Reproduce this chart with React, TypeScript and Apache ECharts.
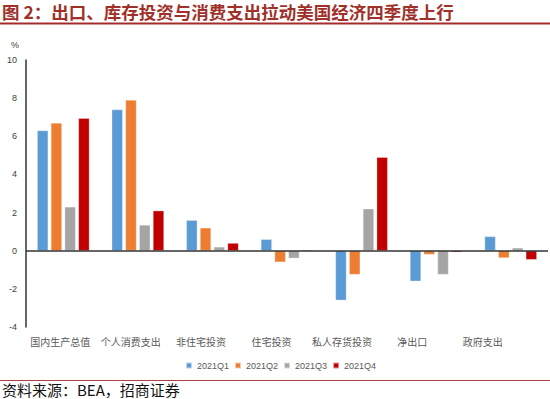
import React, { useEffect, useRef } from "react";
import * as echarts from "echarts";

const categories = ["国内生产总值", "个人消费支出", "非住宅投资", "住宅投资", "私人存货投资", "净出口", "政府支出"];
const q1 = [6.3, 7.4, 1.6, 0.6, -2.6, -1.6, 0.75];
const q2 = [6.7, 7.9, 1.2, -0.6, -1.25, -0.2, -0.38];
const q3 = [2.3, 1.35, 0.2, -0.4, 2.2, -1.25, 0.15];
const q4 = [6.95, 2.1, 0.4, 0.05, 4.9, -0.08, -0.47];
const seriesNames = ["2021Q1", "2021Q2", "2021Q3", "2021Q4"];
const colors = ["#5B9BD5", "#ED7D31", "#A5A5A5", "#C00000"];

const titleText = "图 2：出口、库存投资与消费支出拉动美国经济四季度上行";
const sourceText = "资料来源：BEA，招商证券";

export default function App() {
  const ref = useRef<HTMLDivElement>(null);
  useEffect(() => {
    if (!ref.current) return;
    const chart = echarts.init(ref.current, null, { renderer: "svg" });
    const data = [q1, q2, q3, q4];
    chart.setOption({
      animation: false,
      backgroundColor: "#ffffff",
      graphic: [
        {
          type: "text",
          left: 2,
          top: 3,
          style: {
            text: titleText,
            fill: "#A0302A",
            font: "bold 17.5px 'Noto Sans CJK SC', serif",
          },
        },
        {
          type: "line",
          shape: { x1: 0, y1: 23.5, x2: 550, y2: 23.5 },
          style: { stroke: "#A52A2A", lineWidth: 2 },
        },
        {
          type: "line",
          shape: { x1: 0, y1: 380.5, x2: 550, y2: 380.5 },
          style: { stroke: "#B04040", lineWidth: 1 },
        },
        {
          type: "text",
          left: 2,
          top: 382,
          style: {
            text: sourceText,
            fill: "#111111",
            font: "15px 'Noto Sans CJK SC', serif",
          },
        },
        {
          type: "text",
          left: 11,
          top: 40,
          style: { text: "%", fill: "#404040", font: "9px 'Liberation Sans', sans-serif" },
        },
      ],
      legend: {
        data: seriesNames,
        left: 180,
        top: 356,
        itemWidth: 6,
        itemHeight: 6,
        itemGap: 5,
        icon: "rect",
        textStyle: { fontSize: 9, color: "#595959", fontFamily: "'Liberation Sans', sans-serif" },
      },
      grid: [
        { left: 26, right: 2, top: 60, bottom: 72 },
        { left: 25, right: 32, top: 60, bottom: 72 },
      ],
      xAxis: [
        {
          type: "category",
          gridIndex: 0,
          data: categories,
          axisLine: { show: false },
          axisTick: { show: false },
          axisLabel: { show: false },
        },
        {
          type: "category",
          gridIndex: 1,
          data: categories,
          axisLine: { show: false },
          axisTick: { show: false },
          axisLabel: {
            margin: 9,
            fontSize: 10,
            color: "#595959",
            fontFamily: "'Noto Sans CJK SC', serif",
            interval: 0,
          },
        },
      ],
      yAxis: [
        {
          type: "value",
          gridIndex: 0,
          min: -4,
          max: 10,
          interval: 2,
          axisLine: { show: true, lineStyle: { color: "#333333", width: 1.5 } },
          axisTick: { show: false },
          splitLine: { show: false },
          axisLabel: { fontSize: 9, color: "#404040", margin: 9, fontFamily: "'Liberation Sans', sans-serif" },
        },
        {
          type: "value",
          gridIndex: 1,
          min: -4,
          max: 10,
          show: false,
        },
      ],
      series: data.map((d, i) => ({
        name: seriesNames[i],
        type: "bar",
        xAxisIndex: 0,
        yAxisIndex: 0,
        data: d,
        barWidth: 11,
        barGap: "25%",
        itemStyle: { color: colors[i], borderColor: "rgba(255,255,255,0.6)", borderWidth: 0.5 },
        markLine:
          i === 0
            ? {
                silent: true,
                symbol: "none",
                label: { show: false },
                lineStyle: { color: "#333333", width: 1.5, type: "solid" },
                data: [{ yAxis: 0 }],
              }
            : undefined,
      })),
    });
    return () => chart.dispose();
  }, []);
  return <div ref={ref} style={{ width: 550, height: 399, position: "fixed", left: 0, top: 0 }} />;
}
